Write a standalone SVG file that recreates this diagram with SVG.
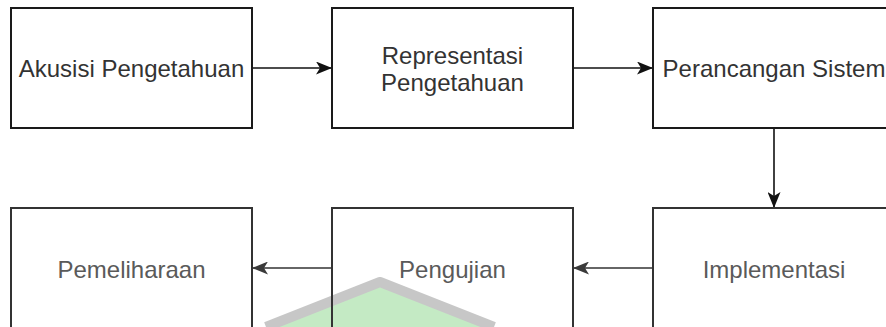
<svg xmlns="http://www.w3.org/2000/svg" width="886" height="327" viewBox="0 0 886 327">
  <defs>
    <style>
      .box { fill: none; stroke: #1a1a1a; stroke-width: 2; }
      .box.low { stroke: #333; }
      .lbl { font-family: "Liberation Sans", Arial, sans-serif; font-size: 24px; fill: #333; text-anchor: middle; }
      .lbl.low { fill: #5a5a5a; }
      .edge { fill: none; stroke: #111; stroke-width: 1.6; }
      .edge.low { stroke: #333; }
    </style>
    <marker id="arr" viewBox="0 0 16 13" refX="15" refY="6.5" markerWidth="16" markerHeight="13" markerUnits="userSpaceOnUse" orient="auto">
      <path d="M0,0 L16,6.5 L0,13 L4,6.5 Z" fill="#111"/>
    </marker>
    <marker id="arr2" viewBox="0 0 16 13" refX="15" refY="6.5" markerWidth="16" markerHeight="13" markerUnits="userSpaceOnUse" orient="auto">
      <path d="M0,0 L16,6.5 L0,13 L4,6.5 Z" fill="#3a3a3a"/>
    </marker>
  </defs>
  <rect x="0" y="0" width="886" height="327" fill="#fff"/>

  <g id="watermark" opacity="0.65">
    <path d="M270,327 L380,284 L490,327 Z" fill="#a6e0a6"/>
    <path d="M266,327 L380,282 L494,327" fill="none" stroke="#aaa" stroke-width="10" stroke-linejoin="round"/>
  </g>

  <g id="connectors">
    <line class="edge" x1="252" y1="68" x2="331" y2="68" marker-end="url(#arr)"/>
    <line class="edge" x1="573" y1="68" x2="652" y2="68" marker-end="url(#arr)"/>
    <line class="edge" x1="774" y1="128" x2="774" y2="207" marker-end="url(#arr)"/>
    <line class="edge low" x1="653" y1="268" x2="574" y2="268" marker-end="url(#arr2)"/>
    <line class="edge low" x1="332" y1="268" x2="253" y2="268" marker-end="url(#arr2)"/>
  </g>

  <g id="akusisi">
    <rect class="box" x="11" y="8" width="241" height="120"/>
    <text class="lbl" x="131.5" y="77">Akusisi Pengetahuan</text>
  </g>
  <g id="representasi">
    <rect class="box" x="332" y="8" width="241" height="120"/>
    <text class="lbl" x="452.5" y="64">Representasi</text>
    <text class="lbl" x="452.5" y="91">Pengetahuan</text>
  </g>
  <g id="perancangan">
    <rect class="box" x="653" y="8" width="241" height="120"/>
    <text class="lbl" x="774" y="77">Perancangan Sistem</text>
  </g>
  <g id="implementasi">
    <rect class="box low" x="653" y="208" width="241" height="120"/>
    <text class="lbl low" x="774" y="278">Implementasi</text>
  </g>
  <g id="pengujian">
    <rect class="box low" x="332" y="208" width="241" height="120"/>
    <text class="lbl low" x="452.5" y="278">Pengujian</text>
  </g>
  <g id="pemeliharaan">
    <rect class="box low" x="11" y="208" width="241" height="120"/>
    <text class="lbl low" x="131.5" y="278">Pemeliharaan</text>
  </g>
</svg>
